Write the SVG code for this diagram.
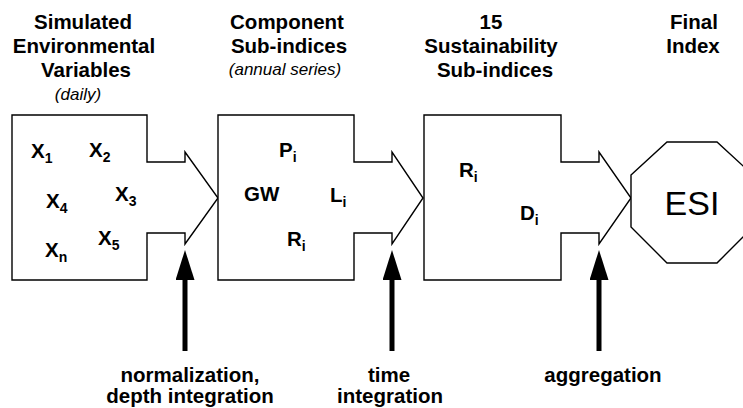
<svg xmlns="http://www.w3.org/2000/svg" width="743" height="408" viewBox="0 0 743 408">
<style>
.shape{fill:#fff;stroke:#000;stroke-width:1.4;stroke-linejoin:miter}
.h{font-family:"Liberation Sans",Arial,sans-serif;font-weight:bold;font-size:20.5px;fill:#000;text-anchor:middle}
.it{font-family:"Liberation Sans",Arial,sans-serif;font-style:italic;font-size:17px;fill:#000;text-anchor:middle}
.v{font-family:"Liberation Sans",Arial,sans-serif;font-weight:bold;font-size:20.5px;fill:#000}
.s{font-size:14px}
.esi{font-family:"Liberation Sans",Arial,sans-serif;font-size:34px;fill:#000;text-anchor:middle}
.conn{stroke:#000;stroke-width:5;fill:none}
</style>
<defs>
<marker id="ah" markerUnits="userSpaceOnUse" viewBox="0 0 30 19" markerWidth="30" markerHeight="19" refX="10" refY="9.5" orient="auto">
<path d="M0,0 L30,9.5 L0,19 Z" fill="#000"/>
</marker>
</defs>
<rect width="743" height="408" fill="#fff"/>
<g id="node-variables">
<path class="shape" d="M12,115 H147 V162 H185 V152 L218,198 L185,244 V233 H147 V280 H12 Z"/>
<text class="h" x="83" y="29">Simulated</text>
<text class="h" x="84" y="53">Environmental</text>
<text class="h" x="86" y="77">Variables</text>
<text class="it" x="78" y="100">(daily)</text>
<text class="v" x="31" y="158">X<tspan class="s" dy="5">1</tspan></text>
<text class="v" x="89" y="157">X<tspan class="s" dy="5">2</tspan></text>
<text class="v" x="115" y="201">X<tspan class="s" dy="5">3</tspan></text>
<text class="v" x="46" y="208">X<tspan class="s" dy="5">4</tspan></text>
<text class="v" x="98" y="245">X<tspan class="s" dy="5">5</tspan></text>
<text class="v" x="45" y="257">X<tspan class="s" dy="5">n</tspan></text>
</g>
<g id="node-component">
<path class="shape" d="M218,115 H354 V162 H392 V152 L423,198 L392,244 V233 H354 V280 H218 Z"/>
<text class="h" x="287" y="29">Component</text>
<text class="h" x="289" y="53">Sub-indices</text>
<text class="it" x="285" y="75">(annual series)</text>
<text class="v" x="279" y="157">P<tspan class="s" dy="5">i</tspan></text>
<text class="v" x="244" y="201">GW</text>
<text class="v" x="330" y="202">L<tspan class="s" dy="5">i</tspan></text>
<text class="v" x="287" y="246">R<tspan class="s" dy="5">i</tspan></text>
</g>
<g id="node-sustainability">
<path class="shape" d="M424,115 H561 V162 H599 V152 L631,198 L599,244 V233 H561 V280 H424 Z"/>
<text class="h" x="491" y="29">15</text>
<text class="h" x="491" y="53">Sustainability</text>
<text class="h" x="495" y="77">Sub-indices</text>
<text class="v" x="459" y="177">R<tspan class="s" dy="5">i</tspan></text>
<text class="v" x="520" y="220">D<tspan class="s" dy="5">i</tspan></text>
</g>
<g id="node-esi">
<polygon class="shape" points="631,175 667,142 717,142 753,175 753,227 717,263 667,263 631,227"/>
<text class="h" x="694" y="29">Final</text>
<text class="h" x="693" y="53">Index</text>
<text class="esi" x="692" y="215">ESI</text>
</g>
<g id="connectors">
<line class="conn" x1="185" y1="351" x2="185" y2="270" marker-end="url(#ah)"/>
<line class="conn" x1="392" y1="351" x2="392" y2="270" marker-end="url(#ah)"/>
<line class="conn" x1="599" y1="351" x2="599" y2="270" marker-end="url(#ah)"/>
<text class="h" x="190" y="382">normalization,</text>
<text class="h" x="190" y="403">depth integration</text>
<text class="h" x="389" y="382">time</text>
<text class="h" x="390" y="403">integration</text>
<text class="h" x="603" y="382">aggregation</text>
</g>
</svg>
